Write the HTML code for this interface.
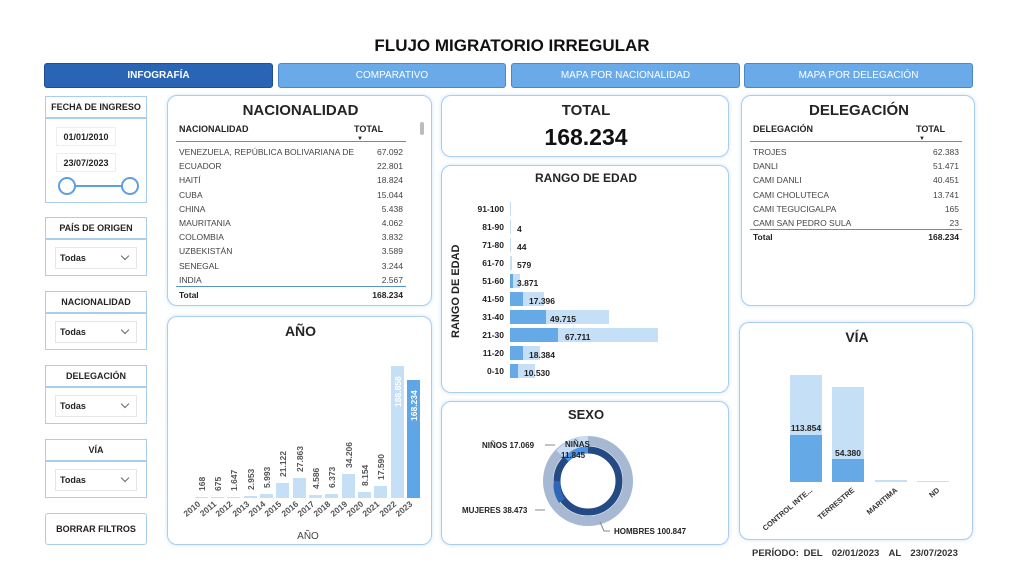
<!DOCTYPE html>
<html><head><meta charset="utf-8"><style>
*{box-sizing:border-box;margin:0;padding:0}
body{width:1024px;height:563px;background:#fff;font-family:"Liberation Sans",sans-serif;position:relative;overflow:hidden;color:#252423}
.a{position:absolute}
.p{position:absolute;border:1.5px solid #a9cdef;border-radius:10px;background:#fff;box-shadow:0 0 4px #cfe3f7}
.tab{position:absolute;top:63px;height:25px;border:1px solid #4a86c8;border-radius:3px;background:#6aaae8;color:#fff;font-size:10px;text-align:center;line-height:24px}
.fh{position:absolute;left:45px;width:102px;height:22px;border:1.5px solid #a9cdef;font-size:9px;font-weight:bold;text-align:center;line-height:20px}
.fb{position:absolute;left:45px;width:102px;border:1.5px solid #a9cdef}
.dd{position:absolute;left:9px;top:7px;width:82px;height:22px;border:1px solid #e6e6e6;font-size:9px;font-weight:bold;line-height:20px;padding-left:4px}
.dd:after{content:"";position:absolute;right:8px;top:5px;width:5px;height:5px;border-right:1px solid #666;border-bottom:1px solid #666;transform:rotate(45deg)}
.t{font-size:12px;font-weight:bold;text-align:center}
.row{position:absolute;font-size:8.5px;color:#444}
.r{text-align:right}
</style></head><body>
<div class="a" style="left:0;width:1024px;top:36px;text-align:center;font-size:17px;font-weight:bold;color:#111">FLUJO MIGRATORIO IRREGULAR</div>
<div class="tab" style="left:44px;width:229px;background:#2a64b4;border-color:#1e4f94;font-weight:bold">INFOGRAFÍA</div>
<div class="tab" style="left:278px;width:228px">COMPARATIVO</div>
<div class="tab" style="left:511px;width:229px">MAPA POR NACIONALIDAD</div>
<div class="tab" style="left:744px;width:229px">MAPA POR DELEGACIÓN</div>

<div class="fh" style="top:96px">FECHA DE INGRESO</div>
<div class="fb" style="top:118px;height:85px">
<div class="a" style="left:10px;top:8px;width:60px;height:19px;border:1px solid #eee;font-size:9px;font-weight:bold;line-height:18px;text-align:center">01/01/2010</div>
<div class="a" style="left:10px;top:34px;width:60px;height:19px;border:1px solid #eee;font-size:9px;font-weight:bold;line-height:18px;text-align:center">23/07/2023</div>
<div class="a" style="left:20px;top:66px;width:62px;height:2px;background:#5d9fe0"></div>
<div class="a" style="left:12px;top:58px;width:18px;height:18px;border:2px solid #5d9fe0;border-radius:50%;background:#fff"></div>
<div class="a" style="left:75px;top:58px;width:18px;height:18px;border:2px solid #5d9fe0;border-radius:50%;background:#fff"></div>
</div>
<div class="fh" style="top:217px">PAÍS DE ORIGEN</div><div class="fb" style="top:239px;height:37px"><div class="dd">Todas</div></div>
<div class="fh" style="top:291px">NACIONALIDAD</div><div class="fb" style="top:313px;height:37px"><div class="dd">Todas</div></div>
<div class="fh" style="top:365px">DELEGACIÓN</div><div class="fb" style="top:387px;height:37px"><div class="dd">Todas</div></div>
<div class="fh" style="top:439px">VÍA</div><div class="fb" style="top:461px;height:37px"><div class="dd">Todas</div></div>
<div class="fh" style="top:513px;height:32px;line-height:30px;border-radius:3px">BORRAR FILTROS</div>

<!-- Nacionalidad -->
<div class="p" style="left:167px;top:95px;width:265px;height:211px">
<div class="a" style="left:0;width:265px;top:6px;font-size:15px;font-weight:bold;text-align:center">NACIONALIDAD</div>
<div class="a" style="left:11px;top:28px;font-size:9px;font-weight:bold">NACIONALIDAD</div>
<div class="a" style="left:186px;top:28px;font-size:9px;font-weight:bold">TOTAL</div>
<div class="a" style="left:189px;top:40px;font-size:6px">▼</div>
<div class="a" style="left:252px;top:26px;width:4px;height:13px;background:#bbb;border-radius:2px"></div>
<div class="a" style="left:8px;top:45px;width:230px;height:1px;background:#5a8fd0"></div>
<div class="a" style="left:8px;top:190px;width:230px;height:1px;background:#5a8fd0"></div>
<div class="row" style="left:11px;top:49px;line-height:14.2px">VENEZUELA, REPÚBLICA BOLIVARIANA DE<br>ECUADOR<br>HAITÍ<br>CUBA<br>CHINA<br>MAURITANIA<br>COLOMBIA<br>UZBEKISTÁN<br>SENEGAL<br>INDIA</div>
<div class="row r" style="left:170px;width:65px;top:49px;line-height:14.2px">67.092<br>22.801<br>18.824<br>15.044<br>5.438<br>4.062<br>3.832<br>3.589<br>3.244<br>2.567</div>
<div class="row" style="left:11px;top:194px;font-weight:bold;color:#222">Total</div>
<div class="row r" style="left:170px;width:65px;top:194px;font-weight:bold;color:#222">168.234</div>
</div>

<!-- Año -->
<div class="p" style="left:167px;top:316px;width:265px;height:229px">
<div class="a" style="left:0;width:265px;top:6px;font-size:14px;font-weight:bold;text-align:center">AÑO</div>
<svg class="a" style="left:0;top:0" width="265" height="229" font-family="Liberation Sans" font-size="8.5" font-weight="bold">
<g fill="#c4dff6">
<rect x="27" y="180" width="13" height="1"/><rect x="43" y="180" width="13" height="1"/><rect x="59" y="180" width="13" height="1"/>
<rect x="76" y="179" width="13" height="2"/><rect x="92" y="177" width="13" height="4"/><rect x="108" y="166" width="13" height="15"/>
<rect x="125" y="161" width="13" height="20"/><rect x="141" y="178" width="13" height="3"/><rect x="157" y="177" width="13" height="4"/>
<rect x="174" y="157" width="13" height="24"/><rect x="190" y="175" width="13" height="6"/><rect x="206" y="169" width="13" height="12"/>
<rect x="223" y="49" width="13" height="132"/></g>
<rect x="239" y="63" width="13" height="118" fill="#5fa6e6"/>
<g fill="#555">
<text transform="translate(37,174) rotate(-90)">168</text>
<text transform="translate(53,174) rotate(-90)">675</text>
<text transform="translate(69,174) rotate(-90)">1.647</text>
<text transform="translate(86,173) rotate(-90)">2.953</text>
<text transform="translate(102,171) rotate(-90)">5.993</text>
<text transform="translate(118,160) rotate(-90)">21.122</text>
<text transform="translate(135,155) rotate(-90)">27.863</text>
<text transform="translate(151,172) rotate(-90)">4.586</text>
<text transform="translate(167,171) rotate(-90)">6.373</text>
<text transform="translate(184,151) rotate(-90)">34.206</text>
<text transform="translate(200,169) rotate(-90)">8.154</text>
<text transform="translate(216,163) rotate(-90)">17.590</text>
</g>
<text transform="translate(233,90) rotate(-90)" fill="#fff">188.858</text>
<text transform="translate(249,104) rotate(-90)" fill="#fff">168.234</text>
<g fill="#555" text-anchor="end">
<text transform="translate(33,188) rotate(-40)">2010</text><text transform="translate(49,188) rotate(-40)">2011</text>
<text transform="translate(65,188) rotate(-40)">2012</text><text transform="translate(82,188) rotate(-40)">2013</text>
<text transform="translate(98,188) rotate(-40)">2014</text><text transform="translate(114,188) rotate(-40)">2015</text>
<text transform="translate(131,188) rotate(-40)">2016</text><text transform="translate(147,188) rotate(-40)">2017</text>
<text transform="translate(163,188) rotate(-40)">2018</text><text transform="translate(180,188) rotate(-40)">2019</text>
<text transform="translate(196,188) rotate(-40)">2020</text><text transform="translate(212,188) rotate(-40)">2021</text>
<text transform="translate(229,188) rotate(-40)">2022</text><text transform="translate(245,188) rotate(-40)">2023</text>
</g>
<text x="140" y="222" text-anchor="middle" font-weight="normal" font-size="10" fill="#444">AÑO</text>
</svg>
</div>

<!-- Total -->
<div class="p" style="left:441px;top:95px;width:288px;height:62px">
<div class="a" style="left:0;width:288px;top:6px;font-size:15px;font-weight:bold;text-align:center">TOTAL</div>
<div class="a" style="left:0;width:288px;top:28px;font-size:23px;font-weight:bold;text-align:center;color:#111">168.234</div>
</div>

<!-- Rango -->
<div class="p" style="left:441px;top:165px;width:288px;height:228px">
<div class="a" style="left:0;width:288px;top:5px;font-size:12px;font-weight:bold;text-align:center">RANGO DE EDAD</div>
<svg class="a" style="left:0;top:0" width="288" height="228" font-family="Liberation Sans" font-size="8.5" font-weight="bold" fill="#222">
<text transform="translate(17,172) rotate(-90)" font-size="11">RANGO DE EDAD</text>
<g text-anchor="end">
<text x="62" y="46">91-100</text><text x="62" y="64">81-90</text><text x="62" y="82">71-80</text><text x="62" y="100">61-70</text>
<text x="62" y="118">51-60</text><text x="62" y="136">41-50</text><text x="62" y="154">31-40</text><text x="62" y="172">21-30</text>
<text x="62" y="190">11-20</text><text x="62" y="208">0-10</text></g>
<g fill="#c4dff6">
<rect x="68" y="36" width="1" height="14"/><rect x="68" y="54" width="1" height="14"/><rect x="68" y="72" width="1" height="14"/>
<rect x="68" y="90" width="2" height="14"/><rect x="68" y="108" width="10" height="14"/><rect x="68" y="126" width="34" height="14"/>
<rect x="68" y="144" width="99" height="14"/><rect x="68" y="162" width="148" height="14"/><rect x="68" y="180" width="30" height="14"/><rect x="68" y="198" width="25" height="14"/></g>
<g fill="#65a9e6">
<rect x="68" y="108" width="3" height="14"/><rect x="68" y="126" width="13" height="14"/><rect x="68" y="144" width="36" height="14"/>
<rect x="68" y="162" width="48" height="14"/><rect x="68" y="180" width="13" height="14"/><rect x="68" y="198" width="8" height="14"/></g>
<text x="75" y="66">4</text><text x="75" y="84">44</text><text x="75" y="102">579</text><text x="75" y="120">3.871</text>
<text x="87" y="138">17.396</text><text x="108" y="156">49.715</text><text x="123" y="174">67.711</text><text x="87" y="192">18.384</text><text x="82" y="210">10.530</text>
</svg>
</div>

<!-- Sexo -->
<div class="p" style="left:441px;top:401px;width:288px;height:144px">
<div class="a" style="left:0;width:288px;top:5px;font-size:13px;font-weight:bold;text-align:center">SEXO</div>
<svg class="a" style="left:0;top:0" width="288" height="144" font-family="Liberation Sans" font-size="8" font-weight="bold" fill="#222">
<circle cx="146" cy="79" r="40" fill="none" stroke="#a6b8d2" stroke-width="10"/>
<circle cx="146" cy="79" r="31" fill="none" stroke="#234a83" stroke-width="7"/>
<path d="M124 57 A31 31 0 0 1 146 48" fill="none" stroke="#4d94e6" stroke-width="7"/>
<path d="M118 52 A40 40 0 0 1 146 39" fill="none" stroke="#c8ddf5" stroke-width="10"/>
<path d="M120 99 A31 31 0 0 1 115 79" fill="none" stroke="#2e66b8" stroke-width="7"/>
<text x="40" y="46">NIÑOS 17.069</text><line x1="103" y1="43" x2="113" y2="43" stroke="#888"/>
<text x="123" y="45">NIÑAS</text><text x="119" y="56">11.845</text>
<text x="20" y="111">MUJERES 38.473</text><line x1="93" y1="108" x2="103" y2="108" stroke="#888"/>
<text x="172" y="132">HOMBRES 100.847</text><polyline points="158,120 162,129 168,129" fill="none" stroke="#888"/>
</svg>
</div>

<!-- Delegación -->
<div class="p" style="left:741px;top:95px;width:234px;height:211px">
<div class="a" style="left:0;width:234px;top:6px;font-size:15px;font-weight:bold;text-align:center">DELEGACIÓN</div>
<div class="a" style="left:11px;top:28px;font-size:9px;font-weight:bold">DELEGACIÓN</div>
<div class="a" style="left:174px;top:28px;font-size:9px;font-weight:bold">TOTAL</div>
<div class="a" style="left:177px;top:40px;font-size:6px">▼</div>
<div class="a" style="left:8px;top:45px;width:212px;height:1px;background:#5a8fd0"></div>
<div class="a" style="left:8px;top:133px;width:212px;height:1px;background:#5a8fd0"></div>
<div class="row" style="left:11px;top:49px;line-height:14.2px">TROJES<br>DANLI<br>CAMI DANLI<br>CAMI CHOLUTECA<br>CAMI TEGUCIGALPA<br>CAMI SAN PEDRO SULA</div>
<div class="row r" style="left:150px;width:67px;top:49px;line-height:14.2px">62.383<br>51.471<br>40.451<br>13.741<br>165<br>23</div>
<div class="row" style="left:11px;top:136px;font-weight:bold;color:#222">Total</div>
<div class="row r" style="left:150px;width:67px;top:136px;font-weight:bold;color:#222">168.234</div>
</div>

<!-- Vía -->
<div class="p" style="left:739px;top:322px;width:234px;height:218px">
<div class="a" style="left:0;width:234px;top:6px;font-size:14px;font-weight:bold;text-align:center">VÍA</div>
<svg class="a" style="left:0;top:0" width="234" height="218" font-family="Liberation Sans" font-size="8.5" font-weight="bold" fill="#222">
<rect x="50" y="52" width="32" height="107" fill="#c4dff6"/><rect x="50" y="112" width="32" height="47" fill="#65a9e6"/>
<rect x="92" y="64" width="32" height="95" fill="#c4dff6"/><rect x="92" y="136" width="32" height="23" fill="#65a9e6"/>
<rect x="135" y="157" width="32" height="2" fill="#c4dff6"/><rect x="177" y="158" width="32" height="1" fill="#c4dff6"/>
<text x="66" y="108" text-anchor="middle">113.854</text><text x="108" y="133" text-anchor="middle">54.380</text>
<g text-anchor="end" fill="#333" font-size="7.5">
<text transform="translate(73,168) rotate(-40)">CONTROL INTE...</text>
<text transform="translate(115,168) rotate(-40)">TERRESTRE</text>
<text transform="translate(158,168) rotate(-40)">MARITIMA</text>
<text transform="translate(200,168) rotate(-40)">ND</text></g>
</svg>
</div>
<div class="a" style="left:752px;top:548px;font-size:9.5px;font-weight:bold;color:#333;word-spacing:2px">PERÍODO: DEL &nbsp;02/01/2023 &nbsp;AL &nbsp;23/07/2023</div>
</body></html>
